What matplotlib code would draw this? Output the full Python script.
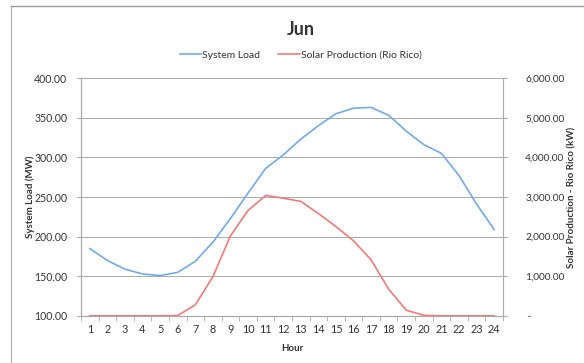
import matplotlib.pyplot as plt
from matplotlib.ticker import FuncFormatter, MultipleLocator

plt.rcParams['font.family'] = ['Lato', 'DejaVu Sans']

# hourly data for June
hours = list(range(1, 25))
system_load = [185, 170, 159, 153, 151, 155, 169, 193, 223, 255, 286, 303,
               323, 340, 355, 362, 363, 353, 333, 316, 305, 277, 241, 209]
solar_kw = [5, 5, 5, 5, 5, 10, 280, 990, 2020, 2660, 3040, 2970,
            2890, 2585, 2255, 1895, 1415, 675, 145, 17, 5, 5, 5, 5]

title = 'Jun'
load_label = 'System Load'
solar_label = 'Solar Production (Rio Rico)'

blue = '#74aaea'
red = '#f27a7a'
grid_col = '#aaaaaa'
txt = '#333333'

fig = plt.figure(figsize=(5.84, 3.63), dpi=100)
ax = fig.add_axes([0.1387, 0.1295, 0.7226, 0.6555])
ax2 = ax.twinx()

l1, = ax.plot(hours, system_load, color=blue, lw=1.2, label=load_label)
l2, = ax2.plot(hours, solar_kw, color=red, lw=1.2, label=solar_label)

ax.set_xlim(0.5, 24.5)
ax.set_ylim(100, 400)
ax2.set_ylim(0, 6000)
ax.yaxis.set_major_locator(MultipleLocator(50))
ax2.yaxis.set_major_locator(MultipleLocator(1000))
ax.yaxis.set_major_formatter(FuncFormatter(lambda v, p: f'{v:.2f}'))
ax2.yaxis.set_major_formatter(
    FuncFormatter(lambda v, p: ' -' if v == 0 else f'{v:,.2f}'))

ax.set_xticks(hours)
ax.set_xticks([h + 0.5 for h in range(0, 25)], minor=True)
ax.tick_params(axis='x', which='major', length=0, pad=6, labelsize=7.8,
               labelcolor=txt)
ax.tick_params(axis='x', which='minor', length=3.5, color=grid_col)
ax.tick_params(axis='y', length=3, color=grid_col, labelsize=7.6,
               labelcolor=txt, pad=7)
ax2.tick_params(axis='y', length=3, color=grid_col, labelsize=7.3,
                labelcolor=txt, pad=13)

ax.grid(axis='y', color=grid_col, lw=0.7)
ax.set_axisbelow(True)
for a in (ax, ax2):
    a.spines['top'].set_visible(False)
    for s in ('left', 'right', 'bottom'):
        a.spines[s].set_color(grid_col)
        a.spines[s].set_linewidth(0.8)

ax.set_xlabel('Hour', fontsize=7, fontweight='bold', color=txt, labelpad=6)
ax.set_ylabel('System Load (MW)', fontsize=7, fontweight='bold', color=txt)
ax2.set_ylabel('Solar Production - Rio Rico (kW)', fontsize=7,
               fontweight='bold', color=txt)
ax.yaxis.set_label_coords(-0.110, 0.5)
ax2.yaxis.set_label_coords(1.152, 0.5)

fig.text(0.515, 0.92, title, ha='center', va='center', fontsize=13,
         fontweight='bold', color=txt)
fig.legend(handles=[l1, l2], loc='center', bbox_to_anchor=(0.515, 0.848),
           ncol=2, frameon=False, fontsize=7.5, handlelength=2.1,
           handletextpad=0.1, columnspacing=1.7, labelcolor=txt)

# outer chart frame
fig.add_artist(plt.Line2D([0.019, 0.019], [0.0, 0.983], color='#aaaaaa',
                          lw=0.8, transform=fig.transFigure))
fig.add_artist(plt.Line2D([0.019, 1.0], [0.983, 0.983], color='#999999',
                          lw=1.0, transform=fig.transFigure))

fig.savefig('out.png', dpi=100, facecolor='white')
